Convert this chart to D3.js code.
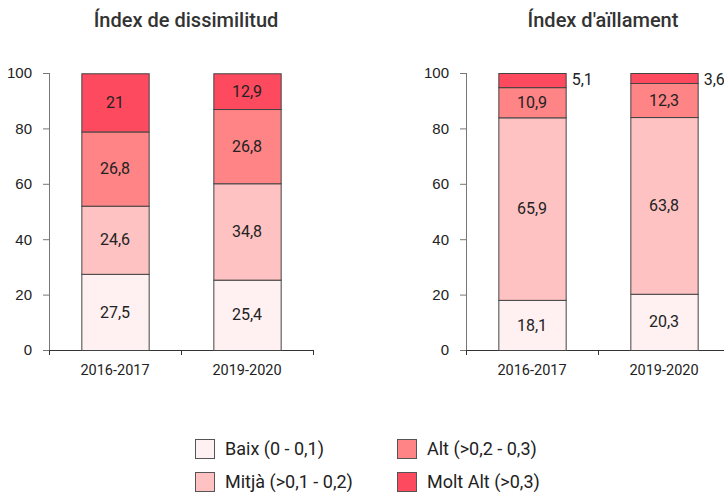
<!DOCTYPE html>
<html>
<head>
<meta charset="utf-8">
<script src="https://cdn.jsdelivr.net/npm/d3@7"></script>
<style>
  body { margin: 0; background: #fff; font-family: Roboto, sans-serif; }
  svg text { fill: #222; }
</style>
</head>
<body>
<div id="viz"></div>
<script>
var periods = ['2016-2017', '2019-2020'];
var levels = ['Baix (0 - 0,1)', 'Mitjà (>0,1 - 0,2)', 'Alt (>0,2 - 0,3)', 'Molt Alt (>0,3)'];
var colors = ['#fff1f1', '#ffc2c2', '#fe8486', '#fd4a5f'];
var yTicks = [0, 20, 40, 60, 80, 100];

var dissimilitud = [
  [27.5, 24.6, 26.8, 21],
  [25.4, 34.8, 26.8, 12.9]
];
var aillament = [
  [18.1, 65.9, 10.9, 5.1],
  [20.3, 63.8, 12.3, 3.6]
];

var charts = [
  { title: 'Índex de dissimilitud', data: dissimilitud, left: 49, titleX: 186 },
  { title: "Índex d'aïllament", data: aillament, left: 466, titleX: 603 }
];

var W = 724, H = 493;
var plotTop = 73, plotBottom = 350, step = 132;

var svg = d3.select('#viz').append('svg')
  .attr('width', W)
  .attr('height', H);

var yScale = d3.scaleLinear().domain([0, 100]).range([plotBottom, plotTop]);

var fmt = function(v) { return String(v).replace('.', ','); };

charts.forEach(function(c) {
  var xScale = d3.scaleBand()
    .domain(periods)
    .range([c.left, c.left + step * periods.length])
    .paddingInner(0.49)
    .paddingOuter(0.245);

  var g = svg.append('g');

  // title
  g.append('text')
    .attr('x', c.titleX)
    .attr('y', 27)
    .attr('text-anchor', 'middle')
    .style('font-size', '20px')
    .style('font-weight', '500')
    .style('fill', '#333')
    .text(c.title);

  // y axis
  var yAxis = g.append('g')
    .attr('transform', 'translate(' + c.left + ',0)')
    .call(d3.axisLeft(yScale).tickValues(yTicks).tickSize(6).tickPadding(11).tickSizeOuter(0));
  yAxis.select('.domain').attr('stroke', '#777').attr('d', 'M0.5,' + plotTop + 'V' + plotBottom);
  yAxis.selectAll('.tick line').attr('stroke', '#777');
  yAxis.selectAll('.tick text').style('font-size', '15px').style('fill', '#222');

  // x axis
  var xAxisG = g.append('g')
    .attr('transform', 'translate(0,' + plotBottom + ')');
  xAxisG.append('line')
    .attr('x1', c.left).attr('x2', c.left + step * periods.length)
    .attr('y1', 0.5).attr('y2', 0.5)
    .attr('stroke', '#333');
  d3.range(periods.length + 1).forEach(function(i) {
    xAxisG.append('line')
      .attr('x1', c.left + i * step + 0.5).attr('x2', c.left + i * step + 0.5)
      .attr('y1', 0).attr('y2', 5)
      .attr('stroke', '#333');
  });
  periods.forEach(function(p) {
    xAxisG.append('text')
      .attr('x', xScale(p) + xScale.bandwidth() / 2)
      .attr('y', 25)
      .attr('text-anchor', 'middle')
      .style('font-size', '14.5px')
      .text(p);
  });

  // stacked bars
  c.data.forEach(function(vals, pi) {
    var p = periods[pi];
    var cum = 0;
    vals.forEach(function(v, li) {
      var y0 = cum, y1 = cum + v;
      cum = y1;
      g.append('rect')
        .attr('x', xScale(p) + 0.5)
        .attr('y', yScale(y1) + 0.5)
        .attr('width', xScale.bandwidth())
        .attr('height', yScale(y0) - yScale(y1))
        .attr('fill', colors[li])
        .attr('stroke', '#444')
        .attr('stroke-width', 1);
      var small = v < 8;
      g.append('text')
        .attr('x', small ? xScale(p) + xScale.bandwidth() + 6 : xScale(p) + xScale.bandwidth() / 2)
        .attr('y', small ? yScale(y1) + 6 : (yScale(y0) + yScale(y1)) / 2)
        .attr('dy', '0.35em')
        .attr('text-anchor', small ? 'start' : 'middle')
        .style('font-size', '16px')
        .text(fmt(v));
    });
  });
});

// legend
var legend = svg.append('g');
levels.forEach(function(l, i) {
  var col = Math.floor(i / 2), row = i % 2;
  var lx = 195 + col * 202, ly = 439 + row * 33;
  legend.append('rect')
    .attr('x', lx + 0.5).attr('y', ly + 0.5)
    .attr('width', 19).attr('height', 19)
    .attr('fill', colors[i])
    .attr('stroke', '#555');
  legend.append('text')
    .attr('x', lx + 30).attr('y', ly + 10)
    .attr('dy', '0.35em')
    .style('font-size', '18px')
    .text(l);
});
</script>
</body>
</html>
